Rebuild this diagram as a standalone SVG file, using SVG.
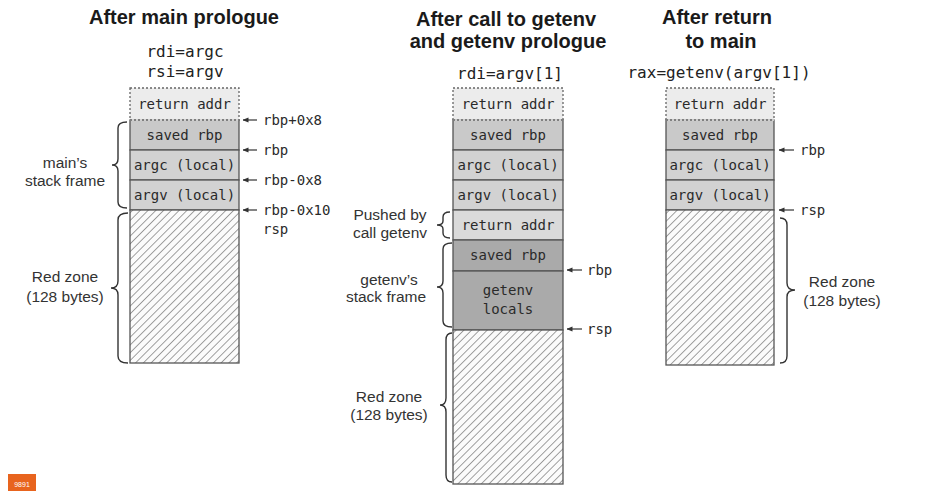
<svg xmlns="http://www.w3.org/2000/svg" width="940" height="491" viewBox="0 0 940 491">
<defs>
<style>
.title{font-family:"Liberation Sans",Arial,sans-serif;font-weight:bold;font-size:20px;fill:#1a1a1a;text-anchor:middle}
.reg{font-family:"DejaVu Sans Mono","Liberation Mono",monospace;font-size:16px;fill:#222;text-anchor:middle}
.cell{font-family:"DejaVu Sans Mono","Liberation Mono",monospace;font-size:14px;fill:#2a2a2a;text-anchor:middle}
.ptr{font-family:"DejaVu Sans Mono","Liberation Mono",monospace;font-size:14px;fill:#2a2a2a}
.side{font-family:"Liberation Sans",Arial,sans-serif;font-size:15.5px;fill:#333;text-anchor:middle}
.ret{fill:#ececec;stroke:#666;stroke-width:1.3;stroke-dasharray:2 2}
.g1{fill:#c9c9c9;stroke:#555;stroke-width:1.3}
.g2{fill:#d2d2d2;stroke:#555;stroke-width:1.3}
.g3{fill:#dadada;stroke:#555;stroke-width:1.3}
.g4{fill:#aaaaaa;stroke:#555;stroke-width:1.3}
.hat{fill:url(#hatch);stroke:#555;stroke-width:1.3}
.brace{fill:none;stroke:#333;stroke-width:1.4}
.arr{stroke:#333;stroke-width:1.2;marker-end:url(#ah)}
</style>
<pattern id="hatch" width="5.5" height="5.5" patternUnits="userSpaceOnUse" patternTransform="rotate(45)">
<rect width="5.5" height="5.5" fill="#fbfbfb"/>
<line x1="0" y1="0" x2="0" y2="5.5" stroke="#555" stroke-width="1.1"/>
</pattern>
<marker id="ah" markerWidth="6" markerHeight="6" refX="5.5" refY="3" orient="auto" markerUnits="userSpaceOnUse">
<path d="M0,0.5 L6,3 L0,5.5 z" fill="#333"/>
</marker>
</defs>
<rect width="940" height="491" fill="#ffffff"/>

<!-- Column 1 -->
<g id="col1">
<text class="title" x="184" y="24">After main prologue</text>
<text class="reg" x="185" y="57">rdi=argc</text>
<text class="reg" x="185" y="77">rsi=argv</text>
<g id="c1-ret"><rect class="ret" x="130" y="88" width="109" height="32"/><text class="cell" x="184.5" y="109">return addr</text></g>
<g id="c1-rbp"><rect class="g1" x="130" y="120" width="109" height="30"/><line x1="130" y1="120" x2="239" y2="120" stroke="#ececec" stroke-width="1.5"/><line x1="130" y1="120" x2="239" y2="120" stroke="#666" stroke-width="1.3" stroke-dasharray="2 2"/><text class="cell" x="184.5" y="140">saved rbp</text></g>
<g id="c1-argc"><rect class="g2" x="130" y="150" width="109" height="30"/><text class="cell" x="184.5" y="170">argc (local)</text></g>
<g id="c1-argv"><rect class="g2" x="130" y="180" width="109" height="30"/><text class="cell" x="184.5" y="200">argv (local)</text></g>
<g id="c1-red"><rect class="hat" x="130" y="210" width="109" height="153"/></g>
<text class="ptr" x="263" y="125">rbp+0x8</text>
<text class="ptr" x="263" y="155">rbp</text>
<text class="ptr" x="263" y="185">rbp-0x8</text>
<text class="ptr" x="263" y="215">rbp-0x10</text>
<text class="ptr" x="263" y="234">rsp</text>
<text class="side" x="65" y="168">main’s</text>
<text class="side" x="65" y="186">stack frame</text>
<text class="side" x="65" y="282">Red zone</text>
<text class="side" x="65" y="302">(128 bytes)</text>
</g>

<!-- Column 2 -->
<g id="col2">
<text class="title" x="506" y="26">After call to getenv</text>
<text class="title" x="508" y="48">and getenv prologue</text>
<text class="reg" x="510" y="79">rdi=argv[1]</text>
<g id="c2-ret"><rect class="ret" x="453" y="88" width="110" height="32"/><text class="cell" x="508" y="109">return addr</text></g>
<g id="c2-rbp"><rect class="g1" x="453" y="120" width="110" height="30"/><line x1="453" y1="120" x2="563" y2="120" stroke="#ececec" stroke-width="1.5"/><line x1="453" y1="120" x2="563" y2="120" stroke="#666" stroke-width="1.3" stroke-dasharray="2 2"/><text class="cell" x="508" y="140">saved rbp</text></g>
<g id="c2-argc"><rect class="g2" x="453" y="150" width="110" height="30"/><text class="cell" x="508" y="170">argc (local)</text></g>
<g id="c2-argv"><rect class="g2" x="453" y="180" width="110" height="30"/><text class="cell" x="508" y="200">argv (local)</text></g>
<g id="c2-ret2"><rect class="g3" x="453" y="210" width="110" height="30"/><text class="cell" x="508" y="230">return addr</text></g>
<g id="c2-rbp2"><rect class="g4" x="453" y="240" width="110" height="31"/><text class="cell" x="508" y="260">saved rbp</text></g>
<g id="c2-locals"><rect class="g4" x="453" y="271" width="110" height="59"/><text class="cell" x="508" y="295">getenv</text><text class="cell" x="508" y="314">locals</text></g>
<g id="c2-red"><rect class="hat" x="453" y="330" width="110" height="154"/></g>
<text class="ptr" x="587" y="275">rbp</text>
<text class="ptr" x="587" y="334">rsp</text>
<text class="side" x="390" y="220">Pushed by</text>
<text class="side" x="390" y="238">call getenv</text>
<text class="side" x="389" y="285">getenv’s</text>
<text class="side" x="386" y="302">stack frame</text>
<text class="side" x="389" y="402">Red zone</text>
<text class="side" x="389" y="420">(128 bytes)</text>
</g>

<!-- Column 3 -->
<g id="col3">
<text class="title" x="717" y="24">After return</text>
<text class="title" x="721" y="48">to main</text>
<text class="reg" x="719" y="78">rax=getenv(argv[1])</text>
<g id="c3-ret"><rect class="ret" x="666" y="88" width="108" height="32"/><text class="cell" x="720" y="109">return addr</text></g>
<g id="c3-rbp"><rect class="g1" x="666" y="120" width="108" height="30"/><line x1="666" y1="120" x2="774" y2="120" stroke="#ececec" stroke-width="1.5"/><line x1="666" y1="120" x2="774" y2="120" stroke="#666" stroke-width="1.3" stroke-dasharray="2 2"/><text class="cell" x="720" y="140">saved rbp</text></g>
<g id="c3-argc"><rect class="g2" x="666" y="150" width="108" height="30"/><text class="cell" x="720" y="170">argc (local)</text></g>
<g id="c3-argv"><rect class="g2" x="666" y="180" width="108" height="30"/><text class="cell" x="720" y="200">argv (local)</text></g>
<g id="c3-red"><rect class="hat" x="666" y="210" width="108" height="155"/></g>
<text class="ptr" x="800" y="155">rbp</text>
<text class="ptr" x="800" y="215">rsp</text>
<text class="side" x="842" y="287">Red zone</text>
<text class="side" x="842" y="306">(128 bytes)</text>
</g>

<!-- Connectors: pointer arrows and braces -->
<g id="connectors">
<line class="arr" x1="257" y1="120" x2="243" y2="120"/>
<line class="arr" x1="257" y1="150" x2="243" y2="150"/>
<line class="arr" x1="257" y1="180" x2="243" y2="180"/>
<line class="arr" x1="257" y1="210" x2="243" y2="210"/>
<line class="arr" x1="582" y1="270" x2="567" y2="270"/>
<line class="arr" x1="582" y1="329" x2="567" y2="329"/>
<line class="arr" x1="794" y1="150" x2="779" y2="150"/>
<line class="arr" x1="794" y1="210" x2="779" y2="210"/>
<path class="brace" d="M127,122 Q118,122 118,128 L118,159 Q118,165 112,165 Q118,165 118,171 L118,202 Q118,208 127,208"/>
<path class="brace" d="M128,213 Q118,213 118,220 L118,281 Q118,288 111,288 Q118,288 118,295 L118,356 Q118,363 128,363"/>
<path class="brace" d="M450,212 Q443,212 443,217 L443,221 Q443,225 437,225 Q443,225 443,229 L443,233 Q443,238 450,238"/>
<path class="brace" d="M452,243 Q443,243 443,249 L443,281 Q443,287 437,287 Q443,287 443,293 L443,321 Q443,327 452,327"/>
<path class="brace" d="M452,333 Q446,333 446,340 L446,398 Q446,405 440,405 Q446,405 446,412 L446,475 Q446,482 452,482"/>
<path class="brace" d="M780,218 Q787,218 787,225 L787,283 Q787,290 795,290 Q787,290 787,297 L787,356 Q787,363 780,363"/>
</g>

<g id="badge">
<rect x="8" y="474" width="28" height="17" fill="#e8641e"/>
<text x="22" y="487" font-family="'Liberation Sans',Arial,sans-serif" font-size="7" fill="#ffffff" text-anchor="middle">9891</text>
</g>
</svg>
